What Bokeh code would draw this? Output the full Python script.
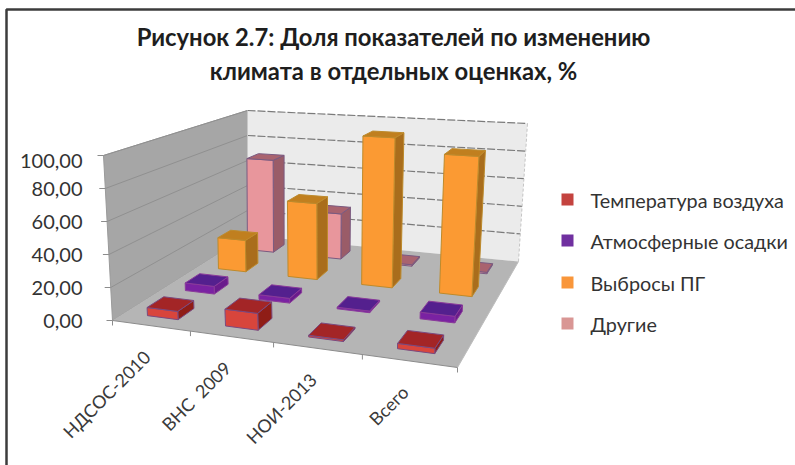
import numpy as np
from bokeh.plotting import figure
from bokeh.models import Range1d
from bokeh.core.properties import value
from bokeh.embed import file_html
from bokeh.resources import INLINE

title_lines = ["Рисунок 2.7: Доля показателей по изменению", "климата в отдельных оценках, %"]
categories = ["НДСОС-2010", "ВНС\u00a0 2009", "НОИ-2013", "Всего"]
series_names = ["Температура воздуха", "Атмосферные осадки", "Выбросы ПГ", "Другие"]
temperature = [5.0, 10.0, 1.0, 3.0]
precipitation = [5.0, 3.0, 1.0, 4.0]
emissions = [22.0, 52.0, 100.0, 91.0]
others = [69.0, 33.0, 1.0, 1.0]
series_values = [temperature, precipitation, emissions, others]
y_ticks = [0, 20, 40, 60, 80, 100]
y_tick_labels = ["0,00", "20,00", "40,00", "60,00", "80,00", "100,00"]

FONT = "Lato"
# face colours per series: front, top, side, outline
face_colors = [
    ("#d8453c", "#a32526", "#8f1d16", "#7a4a80"),
    ("#7a22a2", "#54208e", "#6a1c8c", "#8a3a9a"),
    ("#fb9a33", "#c07f1f", "#a96d1c", "#bd8a2c"),
    ("#e8969c", "#a9636f", "#9a5c68", "#7a5a80"),
]
legend_colors = ["#c4433f", "#7030a0", "#f9963a", "#d99694"]


def homography(src, dst):
    A, b = [], []
    for (x, y), (X, Y) in zip(src, dst):
        A.append([x, y, 1, 0, 0, 0, -x * X, -y * X]); b.append(X)
        A.append([0, 0, 0, x, y, 1, -x * Y, -y * Y]); b.append(Y)
    h = np.linalg.solve(np.array(A, float), np.array(b, float))
    return np.append(h, 1).reshape(3, 3)


unit = [(0, 0), (4, 0), (4, 4), (0, 4)]
H_floor = homography(unit, [(112, 320), (457, 367), (518, 261), (247, 235)])
H_top = homography(unit, [(103, 155), (466, 182), (527, 123), (247, 110)])


def project(u, v, z):
    """category position u, series depth v, value z to picture coordinates"""
    pts = []
    for H in (H_floor, H_top):
        q = H @ np.array([u, v, 1.0])
        pts.append(q[:2] / q[2])
    t = z / 100.0
    return tuple(pts[0] * (1 - t) + pts[1] * t)


def poly(corners):
    pp = [project(*c) for c in corners]
    return [a for a, _ in pp], [b for _, b in pp]


p = figure(width=795, height=465, output_backend="svg", toolbar_location=None,
           x_range=Range1d(0, 795), y_range=Range1d(465, 0), min_border=0,
           x_axis_location=None, y_axis_location=None, outline_line_color=None,
           background_fill_color="white", border_fill_color="white")
p.grid.visible = False

# chart frame
p.line([795, 6, 6], [9, 9, 465], line_color="#3c3c3c", line_width=2.5)

# walls and floor
x, y = poly([(0, 4, 0), (4, 4, 0), (4, 4, 100), (0, 4, 100)])
p.patch(x, y, fill_color="#ebebeb", line_color=None)
x, y = poly([(0, 0, 0), (0, 4, 0), (0, 4, 100), (0, 0, 100)])
p.patch(x, y, fill_color="#a6a6a6", line_color="#9a9a9a", line_width=1)
x, y = poly([(0, 0, 0), (4, 0, 0), (4, 4, 0), (0, 4, 0)])
p.patch(x, y, fill_color="#b5b5b5", line_color=None)

for z in y_ticks:
    x, y = poly([(0, 4, z), (4, 4, z)])
    if z > 0:
        p.line(x, y, line_color="#7a7a7a", line_width=1.2, line_dash="8 2")
    x, y = poly([(0, 0, z), (0, 4, z)])
    if z > 0:
        p.line(x, y, line_color="#909090", line_width=1)
x, y = poly([(4, 4, 0), (4, 4, 100)])
p.line(x, y, line_color="#c4c4c4", line_width=1, line_dash="3 2")
x, y = poly([(0, 4, 0), (0, 4, 100)])
p.line(x, y, line_color="#c8c8c8", line_width=1)
x, y = poly([(0, 0, 0), (4, 0, 0)])
p.line(x, y, line_color="#8c8c8c", line_width=1)
x, y = poly([(4, 0, 0), (4, 4, 0)])
p.line(x, y, line_color="#bdbdbd", line_width=1)

# value ticks and labels
xs, ys, tx, ty = [], [], [], []
for z in y_ticks:
    a, b = project(0, 0, z)
    xs.append([a - 6, a]); ys.append([b, b])
    tx.append(a - 30 + 9 * z / 100); ty.append(b + (5 if z == 100 else 0))
p.multi_line(xs, ys, line_color="#8c8c8c", line_width=1)
p.text(tx, ty, text=y_tick_labels, text_align="right", text_baseline="middle",
       text_font=value(FONT), text_font_size="20px", text_color="#333333")

# category ticks and labels
xs, ys = [], []
for i in range(5):
    a, b = project(i, 0, 0)
    xs.append([a, a]); ys.append([b, b + 5])
p.multi_line(xs, ys, line_color="#8c8c8c", line_width=1)
mid = [project(i + 0.5, 0, 0) for i in range(4)]
p.text([m[0] - 4 for m in mid], [m[1] + 28 for m in mid], text=categories, angle=np.deg2rad(45),
       text_align="right", text_baseline="middle", text_font=value(FONT),
       text_font_size="18px", text_color="#3a3a3a")

# bars, painted from the back row to the front row
half_w, half_d = 0.2, 0.21
for j in range(3, -1, -1):
    front, top, side, edge = face_colors[j]
    vals = series_values[j]
    v0, v1 = j + 0.5 - half_d, j + 0.5 + half_d
    for i in range(4):
        u0, u1 = i + 0.5 - half_w, i + 0.5 + half_w
        z = vals[i]
        faces = [
            ([(u1, v0, 0), (u1, v1, 0), (u1, v1, z), (u1, v0, z)], side),
            ([(u0, v0, 0), (u1, v0, 0), (u1, v0, z), (u0, v0, z)], front),
            ([(u0, v0, z), (u1, v0, z), (u1, v1, z), (u0, v1, z)], top),
        ]
        for corners, col in faces:
            x, y = poly(corners)
            p.patch(x, y, fill_color=col, line_color=edge, line_width=1, line_join="round")

# title
p.text([393, 393], [36, 70], text=title_lines, text_align="center", text_baseline="middle",
       text_font=value(FONT), text_font_style="bold", text_font_size="23.8px", text_color="#1e1e1e")

# legend
legend_y = [199, 240, 282, 323]
p.rect([567] * 4, legend_y, width=12, height=12, fill_color=legend_colors, line_color=None)
p.text([590] * 4, legend_y, text=series_names, text_align="left", text_baseline="middle",
       text_font=value(FONT), text_font_size="19.8px", text_color="#333333")

open("out.html", "w").write(file_html(p, INLINE))
